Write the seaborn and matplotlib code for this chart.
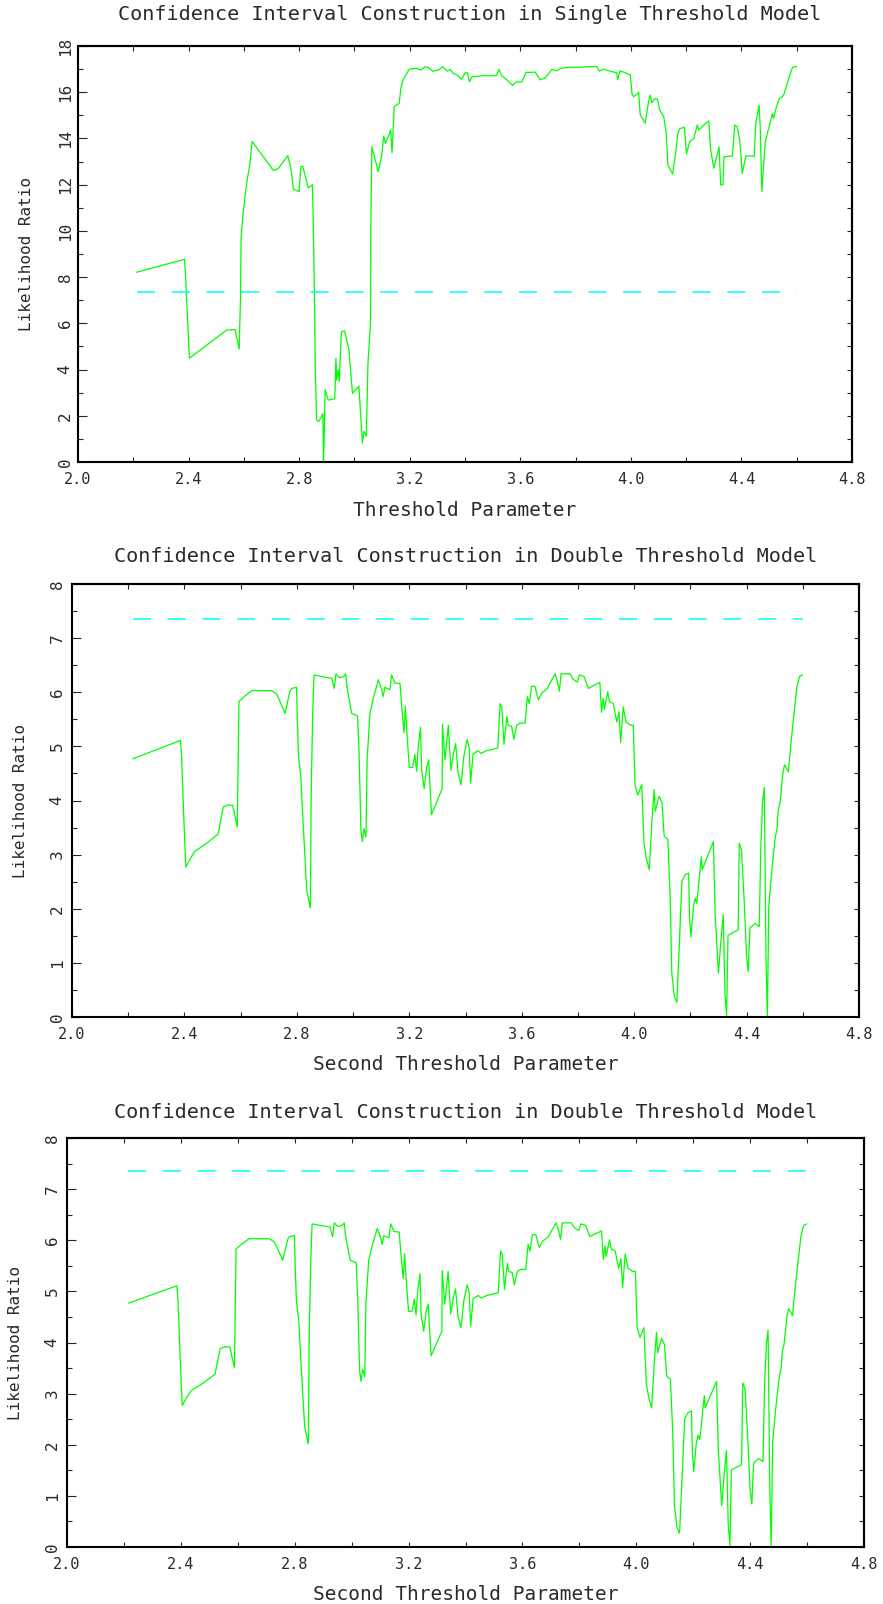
import numpy as np
import seaborn as sns
import matplotlib.pyplot as plt
from matplotlib.ticker import MultipleLocator, FormatStrFormatter

# threshold grid and LR statistic, single threshold model
single_x = [2.212, 2.385, 2.388, 2.397, 2.403, 2.538, 2.568, 2.583, 2.588, 2.590,
            2.596, 2.610, 2.622, 2.630, 2.707, 2.725, 2.759, 2.771, 2.779, 2.800,
            2.806, 2.813, 2.833, 2.848, 2.851, 2.855, 2.858, 2.863, 2.870, 2.881,
            2.886, 2.888, 2.890, 2.894, 2.905, 2.929, 2.933, 2.936, 2.941, 2.945,
            2.953, 2.965, 2.980, 2.993, 3.016, 3.026, 3.029, 3.034, 3.043, 3.049,
            3.058, 3.059, 3.063, 3.086, 3.098, 3.106, 3.112, 3.125, 3.131, 3.136,
            3.144, 3.162, 3.168, 3.176, 3.183, 3.198, 3.225, 3.240, 3.255, 3.268,
            3.283, 3.304, 3.319, 3.336, 3.346, 3.358, 3.370, 3.388, 3.400, 3.409,
            3.416, 3.425, 3.455, 3.466, 3.490, 3.514, 3.523, 3.533, 3.551, 3.572,
            3.584, 3.605, 3.621, 3.635, 3.654, 3.672, 3.690, 3.714, 3.732, 3.747,
            3.780, 3.816, 3.853, 3.877, 3.886, 3.901, 3.925, 3.949, 3.952, 3.961,
            3.998, 4.004, 4.010, 4.019, 4.028, 4.034, 4.052, 4.064, 4.070, 4.076,
            4.088, 4.097, 4.104, 4.119, 4.128, 4.134, 4.151, 4.161, 4.170, 4.177,
            4.194, 4.201, 4.213, 4.228, 4.240, 4.246, 4.264, 4.282, 4.288, 4.300,
            4.310, 4.319, 4.325, 4.333, 4.337, 4.367, 4.376, 4.385, 4.394, 4.403,
            4.416, 4.440, 4.446, 4.452, 4.464, 4.468, 4.474, 4.486, 4.500, 4.512,
            4.516, 4.525, 4.537, 4.549, 4.555, 4.573, 4.585, 4.601]
single_lr = [8.21, 8.77, 8.31, 6.00, 4.49, 5.71, 5.73, 4.89, 7.16, 9.68,
             10.60, 12.05, 12.92, 13.87, 12.61, 12.70, 13.26, 12.65, 11.80, 11.70,
             12.79, 12.79, 11.86, 12.00, 10.48, 7.45, 4.27, 1.82, 1.75, 1.97,
             2.10, 0.00, 0.80, 3.12, 2.68, 2.74, 4.48, 3.54, 3.99, 3.48,
             5.64, 5.67, 4.85, 2.97, 3.28, 1.40, 0.82, 1.33, 1.12, 4.27,
             5.98, 9.97, 13.64, 12.56, 13.21, 14.10, 13.79, 14.15, 14.37, 13.39,
             15.38, 15.52, 16.17, 16.53, 16.67, 17.00, 17.03, 16.96, 17.10, 17.07,
             16.91, 16.96, 17.10, 16.91, 16.98, 16.81, 16.76, 16.56, 16.84, 16.84,
             16.45, 16.67, 16.70, 16.72, 16.71, 16.72, 16.99, 16.71, 16.54, 16.29,
             16.44, 16.44, 16.86, 16.86, 16.87, 16.54, 16.61, 16.99, 16.93, 17.04,
             17.08, 17.08, 17.11, 17.11, 16.91, 17.00, 16.91, 16.84, 16.54, 16.93,
             16.75, 15.95, 15.81, 15.88, 16.00, 15.02, 14.66, 15.59, 15.88, 15.55,
             15.73, 15.69, 15.23, 14.94, 14.22, 12.85, 12.46, 13.28, 14.22, 14.43,
             14.48, 13.33, 13.86, 14.00, 14.58, 14.36, 14.58, 14.76, 13.57, 12.71,
             13.21, 13.64, 11.99, 11.99, 13.21, 13.24, 14.58, 14.50, 13.93, 12.49,
             13.24, 13.24, 13.21, 14.65, 15.44, 14.50, 11.69, 13.86, 14.50, 15.08,
             14.86, 15.30, 15.73, 15.81, 15.95, 16.67, 17.08, 17.11]

# second threshold grid and LR statistic, double threshold model
double_x = [2.216, 2.386, 2.390, 2.398, 2.405, 2.420, 2.437, 2.479, 2.520, 2.538,
            2.556, 2.572, 2.588, 2.594, 2.613, 2.639, 2.675, 2.710, 2.728, 2.740,
            2.758, 2.775, 2.781, 2.799, 2.802, 2.806, 2.814, 2.823, 2.835, 2.844,
            2.848, 2.851, 2.856, 2.861, 2.888, 2.924, 2.933, 2.939, 2.951, 2.967,
            2.974, 2.979, 2.995, 3.016, 3.021, 3.028, 3.033, 3.039, 3.046, 3.050,
            3.060, 3.072, 3.090, 3.101, 3.107, 3.113, 3.131, 3.137, 3.149, 3.167,
            3.173, 3.181, 3.186, 3.193, 3.200, 3.212, 3.220, 3.226, 3.232, 3.240,
            3.244, 3.253, 3.262, 3.269, 3.279, 3.317, 3.318, 3.327, 3.339, 3.348,
            3.357, 3.365, 3.374, 3.384, 3.394, 3.406, 3.413, 3.418, 3.427, 3.445,
            3.455, 3.475, 3.499, 3.515, 3.523, 3.529, 3.537, 3.547, 3.552, 3.564,
            3.572, 3.582, 3.594, 3.612, 3.620, 3.627, 3.635, 3.647, 3.659, 3.671,
            3.691, 3.707, 3.719, 3.727, 3.734, 3.740, 3.772, 3.783, 3.798, 3.805,
            3.822, 3.837, 3.857, 3.878, 3.884, 3.890, 3.894, 3.906, 3.912, 3.926,
            3.938, 3.946, 3.952, 3.961, 3.971, 3.988, 3.997, 4.003, 4.013, 4.027,
            4.035, 4.043, 4.054, 4.063, 4.071, 4.075, 4.089, 4.099, 4.107, 4.120,
            4.128, 4.134, 4.143, 4.152, 4.159, 4.170, 4.182, 4.194, 4.197, 4.202,
            4.211, 4.217, 4.223, 4.239, 4.242, 4.258, 4.282, 4.288, 4.300, 4.309,
            4.317, 4.323, 4.329, 4.334, 4.370, 4.374, 4.382, 4.392, 4.400, 4.406,
            4.412, 4.430, 4.445, 4.451, 4.457, 4.463, 4.469, 4.474, 4.479, 4.489,
            4.501, 4.509, 4.513, 4.519, 4.529, 4.535, 4.549, 4.555, 4.567, 4.579,
            4.588, 4.599]
double_lr = [4.77, 5.11, 4.81, 3.64, 2.77, 2.92, 3.06, 3.21, 3.38, 3.88,
             3.92, 3.91, 3.51, 5.83, 5.92, 6.03, 6.03, 6.03, 5.97, 5.83,
             5.61, 6.01, 6.07, 6.09, 5.45, 4.81, 4.44, 3.51, 2.35, 2.11,
             2.02, 4.13, 5.54, 6.32, 6.29, 6.26, 6.07, 6.34, 6.27, 6.29,
             6.34, 6.07, 5.61, 5.56, 4.93, 3.45, 3.24, 3.48, 3.33, 4.75,
             5.61, 5.89, 6.23, 6.07, 5.92, 6.09, 6.05, 6.32, 6.17, 6.16,
             5.74, 5.25, 5.74, 5.13, 4.61, 4.61, 4.85, 4.54, 5.00, 5.35,
             4.56, 4.22, 4.62, 4.75, 3.74, 4.22, 5.41, 4.75, 5.39, 4.56,
             4.86, 5.05, 4.50, 4.29, 4.81, 5.13, 4.97, 4.32, 4.86, 4.92,
             4.87, 4.92, 4.95, 4.97, 5.79, 5.73, 5.04, 5.55, 5.39, 5.37,
             5.13, 5.39, 5.43, 5.43, 5.92, 5.79, 6.11, 6.11, 5.86, 5.98,
             6.07, 6.23, 6.34, 6.19, 6.02, 6.34, 6.34, 6.24, 6.19, 6.32,
             6.29, 6.07, 6.13, 6.18, 5.63, 5.89, 5.68, 6.01, 5.83, 5.79,
             5.45, 5.64, 5.07, 5.73, 5.45, 5.39, 5.39, 4.29, 4.10, 4.29,
             3.21, 2.94, 2.72, 3.59, 4.20, 3.80, 4.08, 3.96, 3.34, 3.28,
             2.24, 0.81, 0.38, 0.27, 1.12, 2.51, 2.63, 2.66, 1.85, 1.48,
             2.04, 2.19, 2.10, 2.96, 2.72, 2.93, 3.24, 1.92, 0.81, 1.43,
             1.89, 0.43, 0.03, 1.51, 1.61, 3.21, 3.09, 2.10, 1.12, 0.84,
             1.64, 1.73, 1.67, 3.21, 3.96, 4.24, 1.12, 0.00, 2.04, 2.66,
             3.28, 3.51, 3.83, 3.96, 4.50, 4.66, 4.53, 4.90, 5.52, 6.10,
             6.29, 6.32]

critical_value = 7.35
titles = ["Confidence Interval Construction in Single Threshold Model",
          "Confidence Interval Construction in Double Threshold Model",
          "Confidence Interval Construction in Double Threshold Model"]
xlabels = ["Threshold Parameter", "Second Threshold Parameter", "Second Threshold Parameter"]
ylabel = "Likelihood Ratio"

sns.set_style("white")
plt.rcParams["font.family"] = ["DejaVu Sans Mono", "DejaVu Sans"]
plt.rcParams["lines.scale_dashes"] = False
plt.rcParams["text.color"] = "#2a2a2a"
plt.rcParams["axes.labelcolor"] = "#2a2a2a"
plt.rcParams["xtick.labelcolor"] = "#2a2a2a"
plt.rcParams["ytick.labelcolor"] = "#2a2a2a"

W, H = 883, 1604
fig = plt.figure(figsize=(W / 100, H / 100), dpi=100)

# pixel boxes (left, top, right, bottom) and label spots
panels = [
    dict(box=(78, 46, 852, 462), x=single_x, y=single_lr, ymax=18, ystep=2,
         title_xy=(470, 14), ylab_x=27, ytick_pad=3.9),
    dict(box=(72, 584, 859, 1017), x=double_x, y=double_lr, ymax=8, ystep=1,
         title_xy=(466, 557), ylab_x=21, ytick_pad=5.3),
    dict(box=(67, 1138, 864, 1547), x=double_x, y=double_lr, ymax=8, ystep=1,
         title_xy=(466, 1113), ylab_x=16, ytick_pad=5.3),
]

for i, p in enumerate(panels):
    l, t, r, b = p["box"]
    ax = fig.add_axes([l / W, 1 - b / H, (r - l) / W, (b - t) / H])
    wpx, hpx = r - l, b - t

    sns.lineplot(x=p["x"], y=p["y"], ax=ax, color="#00ff00", linewidth=0.9,
                 estimator=None, sort=False)
    ax.plot([p["x"][0], p["x"][-1]], [critical_value, critical_value],
            color="#00ffff", linewidth=1.1, dashes=(13, 12))

    ax.set_xlim(2.0, 4.8)
    ax.set_ylim(0, p["ymax"])
    ax.xaxis.set_major_locator(MultipleLocator(0.4))
    ax.xaxis.set_minor_locator(MultipleLocator(0.2))
    ax.xaxis.set_major_formatter(FormatStrFormatter("%.1f"))
    ax.yaxis.set_major_locator(MultipleLocator(p["ystep"]))
    ax.yaxis.set_minor_locator(MultipleLocator(p["ystep"] / 2))

    ax.tick_params(axis="x", which="both", direction="in", length=3.6, width=0.8,
                   pad=7.5, labelsize=11, bottom=True, top=False)
    ax.tick_params(axis="y", which="major", direction="in", length=6.5, width=0.8,
                   pad=p["ytick_pad"], labelsize=11.5, labelrotation=90, left=True, right=False)
    ax.tick_params(axis="y", which="minor", direction="in", length=3.6, width=0.8,
                   left=True, right=False)
    for lab in ax.get_yticklabels():
        lab.set_va("center")

    for s in ax.spines.values():
        s.set_linewidth(1.5)
        s.set_color("black")

    # short ticks on the right and top sides
    secy = ax.secondary_yaxis("right")
    secy.yaxis.set_major_locator(MultipleLocator(p["ystep"] / 2))
    secy.tick_params(axis="y", direction="in", length=3.6, width=0.8, labelright=False)
    secy.spines["right"].set_linewidth(1.5)
    secx = ax.secondary_xaxis("top")
    secx.xaxis.set_major_locator(MultipleLocator(0.2))
    secx.tick_params(axis="x", direction="in", length=3.6, width=0.8, labeltop=False)
    secx.spines["top"].set_linewidth(1.5)

    ax.set_xlabel(xlabels[i], fontsize=14, va="center")
    ax.xaxis.set_label_coords(0.5, -48 / hpx)
    ax.set_ylabel(ylabel, fontsize=11.5, va="center", ha="center")
    ax.yaxis.set_label_coords(-(l - p["ylab_x"]) / wpx, 0.5)

    tx, ty = p["title_xy"]
    fig.text(tx / W, 1 - ty / H, titles[i], fontsize=14.5, ha="center", va="center")

plt.savefig("out.png", dpi=100)
plt.close()
